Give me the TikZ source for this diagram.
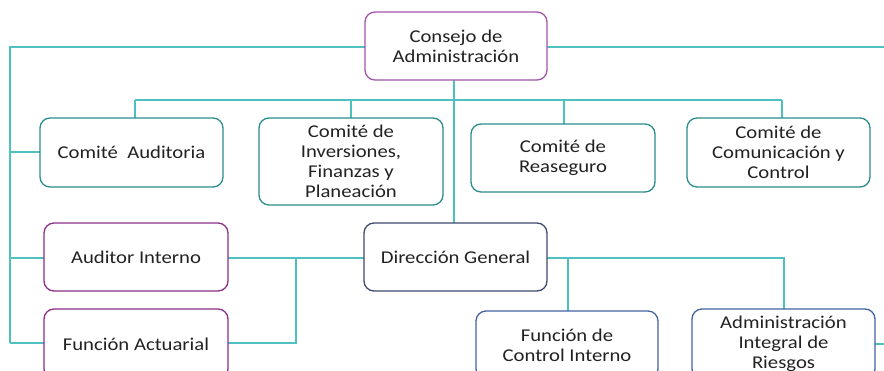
\documentclass[tikz,border=0pt]{standalone}
\usepackage{fontspec}
\setmainfont{Carlito}[FakeStretch=1.15]
\definecolor{lineteal}{HTML}{4FC0C0}
\definecolor{boxteal}{HTML}{2A8C8C}
\definecolor{boxpurple}{HTML}{A055A8}
\definecolor{boxplum}{HTML}{8A2F8A}
\definecolor{boxnavy}{HTML}{3C4A6E}
\definecolor{boxblue}{HTML}{4262A2}
\definecolor{txt}{HTML}{222222}
\begin{document}
\begin{tikzpicture}[x=1pt,y=-1pt,
  box/.style={draw, rounded corners=10pt, line width=1.3pt, fill=white, text=txt,
    align=center, font=\fontsize{18}{20.2}\selectfont, inner sep=0pt},
  conn/.style={draw=lineteal, line width=1.8pt}]
\useasboundingbox (0,0) rectangle (884,370);
\clip (0,0) rectangle (884,370);

% coordinates for bus lines
\coordinate (LT) at (10,47);
\coordinate (RT) at (884,47);
\coordinate (B1) at (135,100);
\coordinate (B2) at (351,100);
\coordinate (B3) at (564,100);
\coordinate (B4) at (782,100);
\coordinate (J1) at (296,258);
\coordinate (D1) at (568,258);
\coordinate (D2) at (784,258);
\coordinate (RE) at (884,344);

% connectors (drawn first, boxes cover ends)
\draw[conn] (RT) -- (LT) -- (LT |- 0,343);
\draw[conn] (B1) -- (B4);
\draw[conn] (454,80) -- (454,223);
\draw[conn] (B1) -- (135,118);
\draw[conn] (B2) -- (351,118);
\draw[conn] (B3) -- (564,124);
\draw[conn] (B4) -- (782,118);
\draw[conn] (LT |- 0,152) -- (40,152);
\draw[conn] (LT |- 0,258) -- (44,258);
\draw[conn] (LT |- 0,343) -- (44,343);
\draw[conn] (228,258) -- (364,258);
\draw[conn] (J1) -- (296,343) -- (228,343);
\draw[conn] (547,258) -- (D2) -- (784,309);
\draw[conn] (D1) -- (568,311);
\draw[conn] (875,344) -- (RE);

% boxes
\node[box, draw=boxpurple, minimum width=182pt, minimum height=68pt] (consejo) at (456,46) {Consejo de\\Administración};
\node[box, draw=boxteal, minimum width=183pt, minimum height=69pt] (auditoria) at (131.5,152.5) {Comité\ \ Auditoria};
\node[box, draw=boxteal, minimum width=184pt, minimum height=87pt] (inversiones) at (351,161.5) {Comité de\\Inversiones,\\Finanzas y\\Planeación};
\node[box, draw=boxteal, minimum width=184pt, minimum height=68pt] (reaseguro) at (563,158) {Comité de\\Reaseguro};
\node[box, draw=boxteal, minimum width=183pt, minimum height=69pt] (comunicacion) at (778.5,152.5) {Comité de\\Comunicación y\\Control};
\node[box, draw=boxplum, minimum width=184pt, minimum height=68pt] (auditor) at (136,257) {Auditor Interno};
\node[box, draw=boxplum, minimum width=184pt, minimum height=70pt] (actuarial) at (136,344) {Función Actuarial};
\node[box, draw=boxnavy, minimum width=183pt, minimum height=68pt] (direccion) at (455.5,257) {Dirección General};
\node[box, draw=boxblue, minimum width=182pt, minimum height=68pt] (control) at (567,345) {Función de\\Control Interno};
\node[box, draw=boxblue, minimum width=183pt, minimum height=70pt] (riesgos) at (783.5,344) {Administración\\Integral de\\Riesgos};
\end{tikzpicture}
\end{document}
